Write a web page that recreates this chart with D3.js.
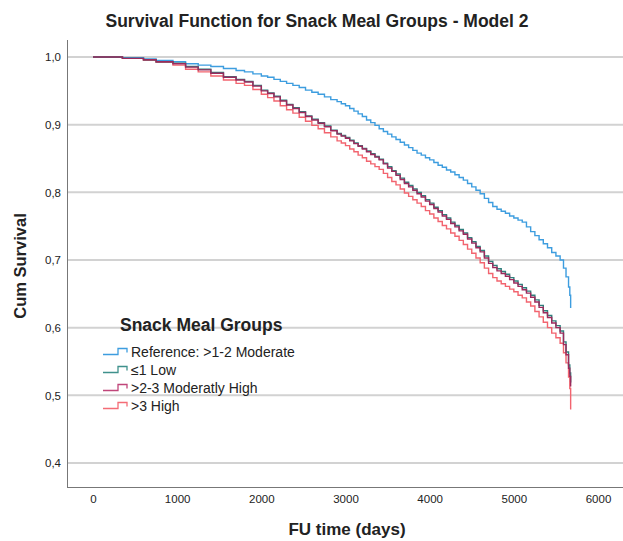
<!DOCTYPE html>
<html><head><meta charset="utf-8">
<script src="https://cdn.jsdelivr.net/npm/d3@7"></script>
<style>body{margin:0;background:#fff}svg{display:block}text{font-family:"Liberation Sans",Arial,sans-serif;fill:#222}</style>
</head><body><svg id="c" width="623" height="541"></svg>
<script>
// ---- data ----
const timeDays = [0,350,600,750,950,1100,1250,1400,1550,1700,
  1800,1900,2000,
  2075,2150,2225,2300,2375,2450,2525,2600,2675,2750,2825,2900,
  2950,3000,3050,3100,3150,3200,3250,3300,3350,3400,3450,3500,3550,3600,3650,3700,3750,3800,3850,3900,3950,4000,4050,4100,4150,4200,4250,4300,4350,4400,4450,4500,4550,4600,4650,4700,4750,4800,4850,4900,4950,5000,5050,5100,5150,5200,5250,5300,5350,5400,5450,5500,5550,
  5590,5620,5650,5665,5675];
const survReference = [1.000,0.999,0.997,0.995,0.993,0.990,0.988,0.986,0.983,0.980,
  0.978,0.975,0.972,
  0.970,0.967,0.964,0.961,0.958,0.955,0.951,0.948,0.945,0.941,0.937,0.934,
  0.931,0.928,0.924,0.920,0.916,0.912,0.907,0.903,0.899,0.894,0.890,0.886,0.882,0.878,0.874,0.870,0.866,0.862,0.858,0.855,0.851,0.848,0.844,0.840,0.837,0.833,0.830,0.826,0.822,0.818,0.813,0.808,0.803,0.798,0.791,0.785,0.779,0.775,0.772,0.769,0.765,0.762,0.759,0.756,0.749,0.742,0.736,0.730,0.724,0.718,0.711,0.706,0.700,
  0.688,0.675,0.660,0.648,0.629];
const survLow = [1.000,0.998,0.996,0.993,0.991,0.986,0.982,0.977,0.971,0.967,
  0.964,0.958,0.951,
  0.947,0.942,0.936,0.930,0.925,0.919,0.913,0.908,0.903,0.898,0.892,0.887,
  0.884,0.881,0.877,0.873,0.869,0.865,0.861,0.857,0.853,0.849,0.843,0.838,0.832,0.827,0.821,0.815,0.810,0.805,0.800,0.795,0.789,0.784,0.778,0.773,0.767,0.762,0.756,0.751,0.745,0.740,0.733,0.727,0.720,0.714,0.706,0.698,0.692,0.687,0.683,0.679,0.674,0.669,0.664,0.659,0.654,0.648,0.641,0.633,0.625,0.618,0.610,0.603,0.595,
  0.579,0.564,0.545,0.533,0.519];
const survModHigh = [1.000,0.998,0.996,0.993,0.990,0.985,0.981,0.976,0.970,0.966,
  0.963,0.957,0.950,
  0.946,0.941,0.935,0.929,0.924,0.918,0.912,0.907,0.902,0.897,0.891,0.886,
  0.883,0.880,0.876,0.872,0.868,0.864,0.860,0.856,0.852,0.848,0.842,0.836,0.831,0.825,0.819,0.813,0.808,0.803,0.798,0.793,0.787,0.782,0.776,0.771,0.765,0.760,0.754,0.749,0.743,0.738,0.731,0.725,0.718,0.712,0.703,0.695,0.689,0.684,0.680,0.676,0.671,0.666,0.661,0.656,0.651,0.645,0.638,0.630,0.622,0.615,0.607,0.600,0.592,
  0.575,0.560,0.540,0.528,0.513];
const survHigh = [1.000,0.998,0.995,0.992,0.988,0.982,0.978,0.972,0.966,0.961,
  0.958,0.952,0.945,
  0.940,0.935,0.928,0.922,0.917,0.911,0.905,0.899,0.894,0.888,0.882,0.876,
  0.873,0.869,0.864,0.860,0.855,0.851,0.846,0.842,0.838,0.834,0.828,0.822,0.816,0.811,0.805,0.799,0.794,0.789,0.784,0.779,0.773,0.768,0.762,0.757,0.751,0.746,0.740,0.735,0.729,0.723,0.716,0.710,0.703,0.696,0.688,0.680,0.674,0.669,0.665,0.661,0.657,0.653,0.648,0.644,0.638,0.632,0.624,0.616,0.608,0.600,0.592,0.585,0.577,
  0.563,0.548,0.527,0.510,0.479];
const groupLabels = ["Reference: >1-2 Moderate","\u22641 Low",">2-3 Moderatly High",">3 High"];
const xTicks = [0,1000,2000,3000,4000,5000,6000];
const yTicks = [0.4,0.5,0.6,0.7,0.8,0.9,1.0];

const series = [
  {name: groupLabels[0], vals: survReference, color: "#3d9ddf"},
  {name: groupLabels[1], vals: survLow, color: "#2f7f7c"},
  {name: groupLabels[2], vals: survModHigh, color: "#9c2a5c"},
  {name: groupLabels[3], vals: survHigh, color: "#f2646f"}
];
const legendColors = ["#3d9ddf","#3f918c","#c0467a","#f46c76"];

const svg = d3.select("#c");
const x = d3.scaleLinear().domain([0,6000]).range([93,598]);
const y = d3.scaleLinear().domain([0.4,1.0]).range([463,57]);

// gridlines
svg.append("g").selectAll("line").data(yTicks).join("line")
  .attr("x1",68).attr("x2",623).attr("y1",d=>y(d)).attr("y2",d=>y(d))
  .attr("stroke","#d2d2d2").attr("stroke-width",2);

// frame
svg.append("line").attr("x1",67.5).attr("x2",67.5).attr("y1",40).attr("y2",487).attr("stroke","#777");
svg.append("line").attr("x1",67).attr("x2",623).attr("y1",487.5).attr("y2",487.5).attr("stroke","#777");

// axes labels
const yAxis = d3.axisLeft(y).tickValues(yTicks).tickSize(0).tickPadding(0).tickFormat(d=>d3.format(".1f")(d).replace(".",","));
const gy = svg.append("g").attr("transform","translate(61,0)").call(yAxis);
gy.select(".domain").remove();
gy.selectAll("text").attr("font-size",11.5).attr("fill","#222").attr("font-family","Liberation Sans, Arial, sans-serif");
const xAxis = d3.axisBottom(x).tickValues(xTicks).tickSize(0).tickPadding(0).tickFormat(d3.format("d"));
const gx = svg.append("g").attr("transform","translate(0,495)").call(xAxis);
gx.select(".domain").remove();
gx.selectAll("text").attr("font-size",11.5).attr("fill","#222").attr("font-family","Liberation Sans, Arial, sans-serif");

// curves
const line = d3.line().x(d=>x(d[0])).y(d=>y(d[1])).curve(d3.curveStepAfter);
const order = [3,0,1,2];
order.forEach(i=>{
  const s = series[i];
  svg.append("path").datum(timeDays.map((t,j)=>[t,s.vals[j]]))
    .attr("d",line).attr("fill","none").attr("stroke",s.color).attr("stroke-width",1.4);
});

// title & axis titles
svg.append("text").attr("x",317).attr("y",27).attr("text-anchor","middle").attr("font-size",17.5).attr("font-weight","bold").text("Survival Function for Snack Meal Groups - Model 2");
svg.append("text").attr("transform","translate(26,266) rotate(-90)").attr("text-anchor","middle").attr("font-size",16.5).attr("font-weight","bold").text("Cum Survival");
svg.append("text").attr("x",347).attr("y",535).attr("text-anchor","middle").attr("font-size",17).attr("font-weight","bold").text("FU time (days)");

// legend
svg.append("text").attr("x",120).attr("y",331).attr("font-size",17.5).attr("font-weight","bold").text("Snack Meal Groups");
const lg = svg.append("g").selectAll("g").data(groupLabels).join("g")
  .attr("transform",(d,i)=>`translate(0,${352+i*18})`);
lg.append("path").attr("d","M103,2.5H118V-3.5H127V0.5").attr("fill","none").attr("stroke",(d,i)=>legendColors[i]).attr("stroke-width",1.3);
lg.append("text").attr("x",131).attr("y",5).attr("font-size",14).text(d=>d);
</script></body></html>
